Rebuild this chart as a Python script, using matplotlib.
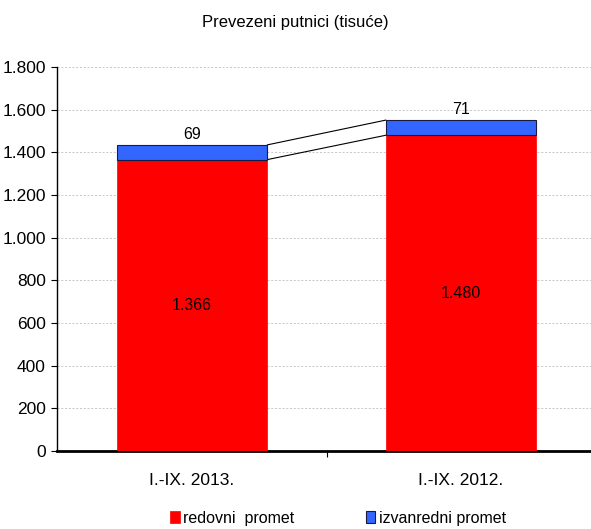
import matplotlib.pyplot as plt
import matplotlib.ticker as mticker

categories = ["I.-IX. 2013.", "I.-IX. 2012."]
redovni = [1366, 1480]
izvanredni = [69, 71]
labels_red = ["1.366", "1.480"]
labels_blue = ["69", "71"]

plt.rcParams['font.family'] = ['Liberation Sans Narrow', 'Liberation Sans', 'DejaVu Sans']

fig = plt.figure(figsize=(5.91, 5.29), dpi=100)
ax = fig.add_axes([57 / 591, (529 - 451) / 529, 534 / 591, 384 / 529])

x = [0, 1]
w = 0.56
ax.bar(x, redovni, width=w, color="#FF0000", edgecolor="#FF0000", linewidth=0.5,
       label="redovni  promet", zorder=3)
tops = [r + b for r, b in zip(redovni, izvanredni)]
ax.bar(x, izvanredni, width=w, bottom=redovni, color="#3366FF", edgecolor="#1a1a40",
       linewidth=0.8, label="izvanredni promet", zorder=3)

# series lines between stacked bars
ax.plot([x[0] + w / 2, x[1] - w / 2], [redovni[0], redovni[1]], color="black", lw=0.8, zorder=2)
ax.plot([x[0] + w / 2, x[1] - w / 2], [tops[0], tops[1]], color="black", lw=0.8, zorder=2)

for xi, r, t, lr, lb in zip(x, redovni, tops, labels_red, labels_blue):
    ax.text(xi, r / 2, lr, ha="center", va="center", fontsize=11.5)
    ax.text(xi, t + 15, lb, ha="center", va="bottom", fontsize=11.5)

ax.set_xlim(-0.502, 1.483)
ax.set_ylim(0, 1800)
ax.yaxis.set_major_locator(mticker.MultipleLocator(200))
ax.yaxis.set_major_formatter(mticker.FuncFormatter(lambda v, p: f"{int(v):,}".replace(",", ".")))
ax.grid(axis="y", color="#c0c0c0", linestyle=(0, (2.5, 2)), linewidth=0.6, zorder=0)
ax.set_xticks([0.5])
ax.set_xticklabels([""])
ax.tick_params(axis="x", length=4, width=0.8)
for xi, c in zip(x, categories):
    ax.text(xi, -140, c, ha="center", va="center", fontsize=12.5)
ax.tick_params(axis="y", labelsize=12.5, length=4, width=0.8, pad=4)
ax.spines["top"].set_visible(False)
ax.spines["right"].set_visible(False)
ax.spines["left"].set_linewidth(1)
ax.spines["bottom"].set_linewidth(2)

fig.text(0.5, 1 - 22 / 529, "Prevezeni putnici (tisuće)", ha="center", va="center", fontsize=12)

handles, lbls = ax.get_legend_handles_labels()
fig.legend(handles, lbls, loc="center left", bbox_to_anchor=(170 / 591, 1 - 518 / 529), ncol=2,
           frameon=False, fontsize=11.5, handlelength=0.6, handleheight=0.8,
           handletextpad=0.2, columnspacing=4.5, borderaxespad=0, borderpad=0)

fig.savefig("out.png", dpi=100)
